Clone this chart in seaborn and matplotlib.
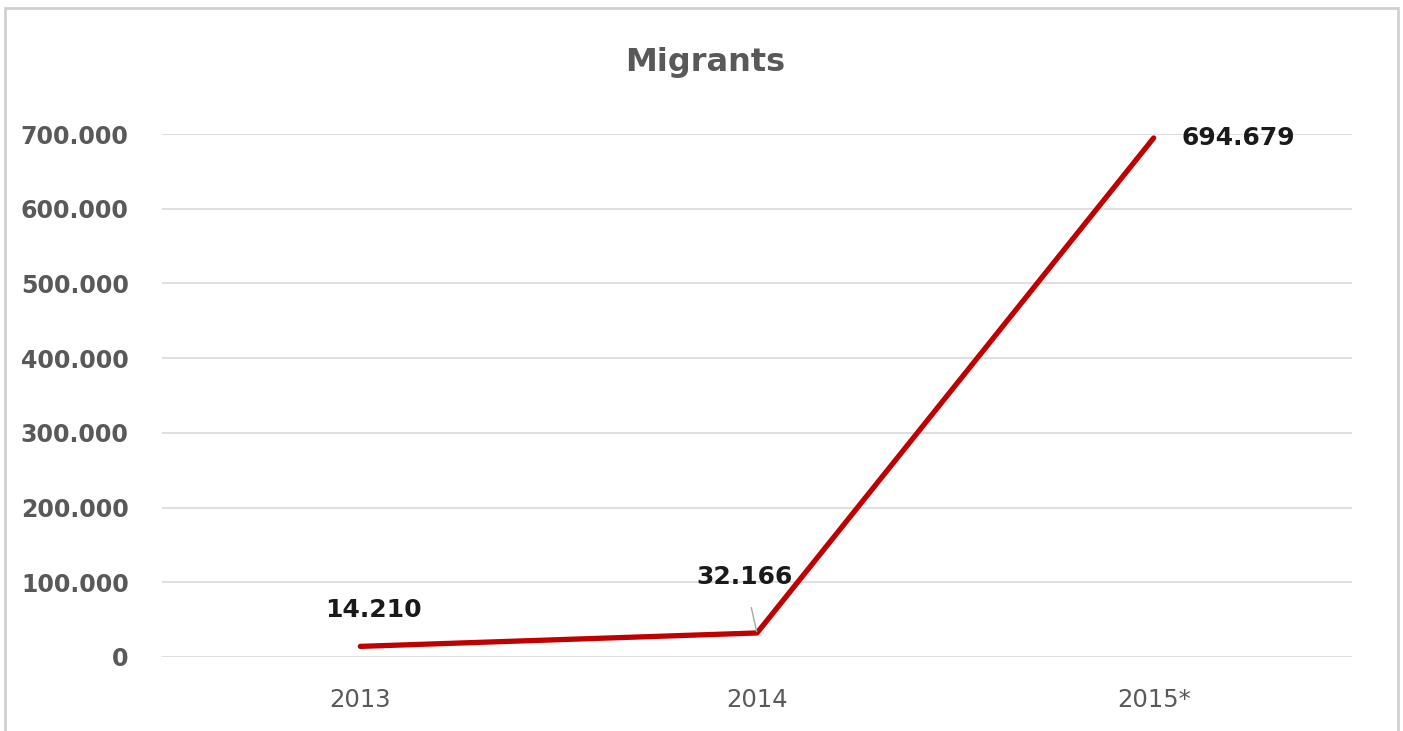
import matplotlib
matplotlib.use("Agg")
import matplotlib.pyplot as plt
from matplotlib.patches import Rectangle
from matplotlib.ticker import FuncFormatter
import seaborn as sns
import pandas as pd

years = ["2013", "2014", "2015*"]
migrants = [14210, 32166, 694679]
label_texts = ["14.210", "32.166", "694.679"]

sns.set_theme(style="white")
plt.rcParams['font.family'] = ['DejaVu Sans']

df = pd.DataFrame({"year": years, "migrants": migrants})

fig = plt.figure(figsize=(14.03, 7.31), dpi=100)
W, H = 1403, 731
ax = fig.add_axes([162 / W, 1 - 657 / H, (1352 - 162) / W, (657 - 134) / H])

# outer chart border
fig.patches.append(Rectangle((5 / W, -0.01), (1398 - 5) / W, 1 - 8 / H + 0.01,
                             transform=fig.transFigure, fill=False,
                             edgecolor="#d0d0d0", linewidth=2))

sns.lineplot(data=df, x="year", y="migrants", ax=ax, color="#C00000",
             linewidth=3.8, sort=False, solid_capstyle="round")

ax.set_xlim(-0.5, 2.5)
ax.set_ylim(0, 700000)
ax.set_yticks(range(0, 700001, 100000))
ax.yaxis.set_major_formatter(FuncFormatter(lambda v, p: f"{int(v):,}".replace(",", ".")))
ax.yaxis.grid(True, color="#d9d9d9", linewidth=1.2)
ax.xaxis.grid(False)
for s in ax.spines.values():
    s.set_visible(False)
ax.set_xlabel("")
ax.set_ylabel("")
ax.tick_params(axis="y", labelsize=17, labelcolor="#595959", pad=24, length=0)
ax.tick_params(axis="x", labelsize=17.5, labelcolor="#595959", pad=22, length=0)
for t in ax.get_yticklabels():
    t.set_fontweight("bold")

# data labels
ax.annotate(label_texts[0], xy=(0, migrants[0]), xytext=(9.5, 26), textcoords="offset points",
            ha="center", va="center", fontsize=18, fontweight="bold", color="#1a1a1a")
ax.annotate(label_texts[1], xy=(1, migrants[1]), xytext=(-9, 40), textcoords="offset points",
            ha="center", va="center", fontsize=18, fontweight="bold", color="#1a1a1a",
            arrowprops=dict(arrowstyle="-", color="#a6a6a6", lw=1, shrinkA=11, shrinkB=1))
ax.annotate(label_texts[2], xy=(2, migrants[2]), xytext=(20, 0), textcoords="offset points",
            ha="left", va="center", fontsize=18, fontweight="bold", color="#1a1a1a")

fig.text(705 / W, 1 - 62 / H, "Migrants", ha="center", va="center",
         fontsize=23, fontweight="bold", color="#595959")

fig.savefig("out.png", dpi=100, facecolor="white")
